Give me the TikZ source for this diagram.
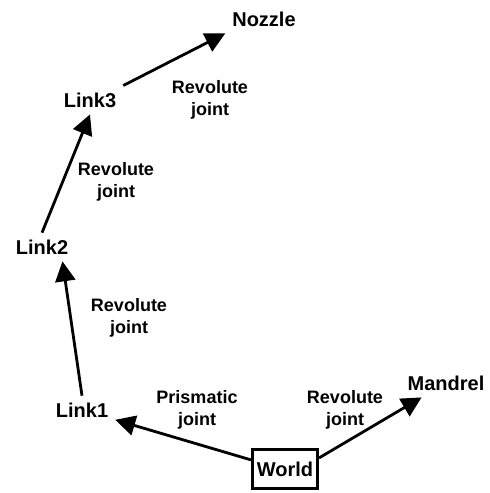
\documentclass[tikz,border=0pt]{standalone}
\usepackage{fontspec}
\setmainfont{Liberation Sans}
\usetikzlibrary{arrows.meta}

\begin{document}
\begin{tikzpicture} [
  x = .5pt,
  y = -.5pt,
  body/.style = {font = \fontsize{10}{12}\selectfont\bfseries},
  joint/.style = {align = center, font = \fontsize{9}{11}\selectfont\bfseries},
  link/.style = {-{Triangle[length = 10pt, width = 10pt]}, line width = 1.4pt},
]
\useasboundingbox (0, 0) rectangle (489, 493);

% bodies of the chain
\node [body] (nozzle) at (264, 19) {Nozzle};
\node [body] (link3) at (90, 100) {Link3};
\node [body] (link2) at (42, 247) {Link2};
\node [body] (link1) at (82, 410) {Link1};
\node [body] (mandrel) at (446, 383) {Mandrel};
\node [body, draw, line width = 1.3pt, minimum width = 32.7pt, minimum height = 19.7pt, inner sep = 2pt] (world) at (285, 469) {World};

% joint labels
\node [joint] (jnozzle) at (210, 100) {Revolute\\joint};
\node [joint] (jlink3) at (116, 182) {Revolute\\joint};
\node [joint] (jlink2) at (129, 318) {Revolute\\joint};
\node [joint] (jlink1) at (197, 410) {Prismatic\\joint};
\node [joint] (jmandrel) at (345, 410) {Revolute\\joint};

% connections
\draw [link] (link3.north east) -- (nozzle.south west);
\draw [link] (link2.north) -- (link3.south);
\draw [link] (link1.north) -- (link2.-35);
\draw [link] (world.165) -- (link1);
\draw [link] (world.18) -- (mandrel);
\end{tikzpicture}
\end{document}
